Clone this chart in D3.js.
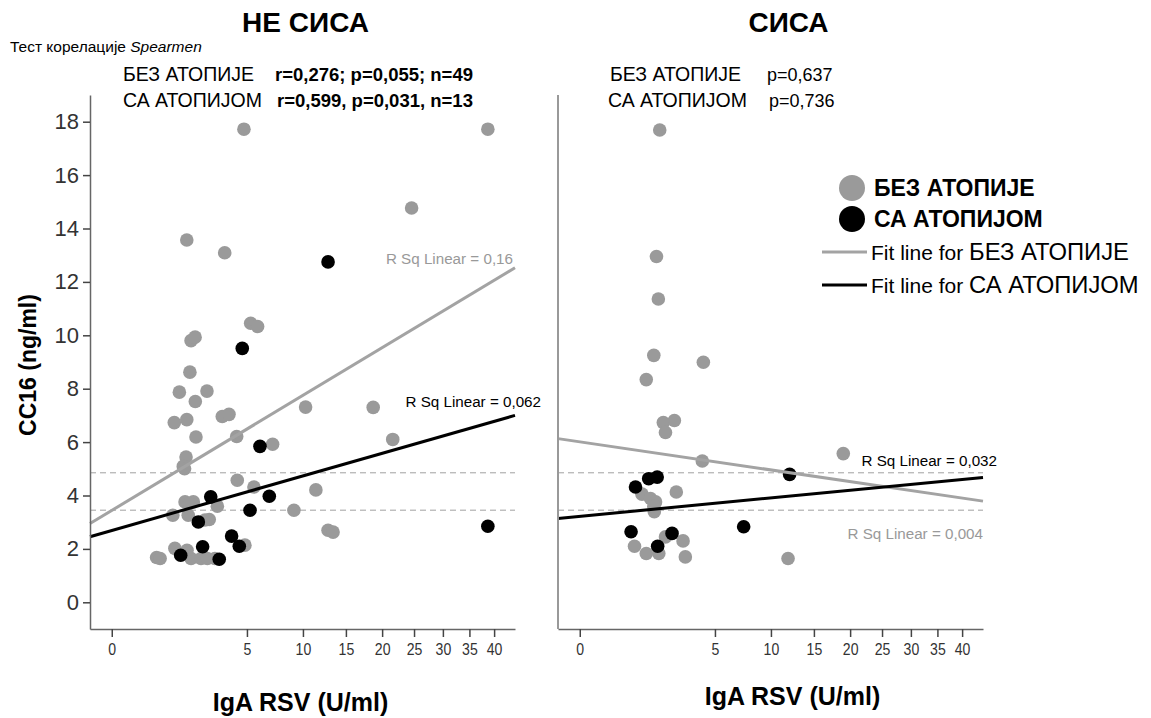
<!DOCTYPE html>
<html>
<head>
<meta charset="utf-8">
<script src="https://cdn.jsdelivr.net/npm/d3@7/dist/d3.min.js"></script>
<style>
  html, body { margin: 0; padding: 0; background: #fff; }
  svg { display: block; font-family: "Liberation Sans", Arial, sans-serif; }
</style>
</head>
<body>
<svg id="chart" width="1151" height="718"></svg>
<script>
// ---- data -------------------------------------------------------------
const panels = ["НЕ СИСА", "СИСА"];
const groups = ["БЕЗ АТОПИЈЕ", "СА АТОПИЈОМ"];

const xTicks = [0, 5, 10, 15, 20, 25, 30, 35, 40];
const yTicks = [0, 2, 4, 6, 8, 10, 12, 14, 16, 18];

// НЕ СИСА, БЕЗ АТОПИЈЕ: [IgA RSV, CC16]
const noBreastNoAtopy = [
  [4.78, 17.72], [38.7, 17.72], [24.6, 14.77], [1.54, 13.57], [3.49, 13.09],
  [5.28, 10.45], [5.82, 10.33], [1.72, 9.80], [1.90, 9.93], [1.67, 8.62],
  [1.25, 7.87], [2.48, 7.91], [1.91, 7.52], [1.07, 6.73], [1.54, 6.84],
  [3.34, 6.96], [3.76, 7.04], [1.94, 6.19], [4.27, 6.21], [10.28, 7.31],
  [18.7, 7.30], [21.6, 6.10], [7.08, 5.92], [1.51, 5.44], [1.40, 5.09],
  [4.31, 4.57], [5.53, 4.32], [11.4, 4.21], [1.47, 3.76], [1.82, 3.76],
  [3.05, 3.60], [1.02, 3.26], [1.60, 3.26], [9.08, 3.45], [2.38, 3.08],
  [4.85, 2.14], [1.09, 2.02], [0.55, 1.68], [0.64, 1.64], [1.72, 1.64],
  [2.18, 1.64], [2.91, 1.64], [12.8, 2.70], [13.4, 2.63], [1.65, 3.70],
  [1.55, 1.95], [2.60, 3.10], [1.45, 5.00], [2.50, 1.64]
];
// НЕ СИСА, СА АТОПИЈОМ
const noBreastAtopy = [
  [12.8, 12.75], [4.66, 9.51], [6.01, 5.84], [6.79, 3.97], [2.68, 3.95],
  [5.23, 3.45], [2.05, 3.01], [3.93, 2.48], [4.45, 2.10], [2.26, 2.08],
  [1.30, 1.76], [3.16, 1.61], [38.7, 2.85]
];
// СИСА, БЕЗ АТОПИЈЕ
const breastNoAtopy = [
  [1.75, 17.69], [1.61, 12.95], [1.69, 11.36], [1.50, 9.25], [4.18, 8.99],
  [1.21, 8.34], [1.91, 6.73], [2.45, 6.81], [2.01, 6.36], [4.11, 5.29],
  [19.0, 5.57], [1.06, 4.05], [1.37, 3.89], [1.57, 3.76], [2.55, 4.13],
  [1.52, 3.39], [1.50, 3.60], [0.82, 2.10], [1.21, 1.83], [1.71, 1.83],
  [2.92, 2.30], [3.05, 1.70], [11.87, 1.64], [2.01, 2.45]
];
// СИСА, СА АТОПИЈОМ
const breastAtopy = [
  [12.05, 4.79], [1.30, 4.63], [1.64, 4.69], [0.85, 4.32], [0.72, 2.64],
  [2.33, 2.58], [7.35, 2.83], [1.66, 2.10]
];

// Linear fits on the square-root axis: CC16 = a + b * sqrt(IgA)
const fitIntercept = [[3.44, 2.69], [6.01, 3.22]];
const fitSlope     = [[1.363, 0.646], [-0.333, 0.218]];
const rSquared     = [["0,16", "0,062"], ["0,004", "0,032"]];

// Horizontal reference levels (dashed)
const refLevels = [4.85, 3.45];

// Spearman summaries
const statsText = [
  ["r=0,276; p=0,055; n=49", "r=0,599, p=0,031, n=13"],
  ["p=0,637", "p=0,736"]
];

// ---- layout -----------------------------------------------------------
const svg = d3.select("#chart");
const plotW = 425, plotTop = 95, plotBottom = 629;
const panelX = [90, 558];
const grayPt = "#9a9a9a", grayLine = "#a3a3a3";

const x = d3.scalePow().exponent(0.5).domain([-0.1296, 44.49]).range([0, plotW]);
const y = d3.scaleLinear().domain([-1, 19]).range([plotBottom, plotTop]);

const pointSets = [[noBreastNoAtopy, noBreastAtopy], [breastNoAtopy, breastAtopy]];
const sq = v => v < 0 ? -Math.sqrt(-v) : Math.sqrt(v);

panels.forEach((title, p) => {
  const g = svg.append("g").attr("transform", `translate(${panelX[p]},0)`);

  // reference dashed lines
  g.selectAll("line.ref").data(refLevels).join("line")
    .attr("class", "ref")
    .attr("x1", 0).attr("x2", plotW)
    .attr("y1", d => y(d)).attr("y2", d => y(d))
    .attr("stroke", "#a0a0a0").attr("stroke-width", 1)
    .attr("stroke-dasharray", "6,4");

  // points: gray group first, black on top
  pointSets[p].forEach((pts, k) => {
    g.selectAll(`circle.g${k}`).data(pts).join("circle")
      .attr("class", `g${k}`)
      .attr("cx", d => x(d[0])).attr("cy", d => y(d[1]))
      .attr("r", 6.8)
      .attr("fill", k === 0 ? grayPt : "#000");
  });

  // fit lines across the whole x range
  const xd = x.domain();
  [0, 1].forEach(k => {
    const a = fitIntercept[p][k], b = fitSlope[p][k];
    const line = d3.line().x(d => x(d)).y(d => y(a + b * sq(d)));
    g.append("path").datum(xd)
      .attr("d", line)
      .attr("fill", "none")
      .attr("stroke", k === 0 ? grayLine : "#000")
      .attr("stroke-width", 3);
  });

  // x axis
  const xAxis = g.append("g").attr("transform", `translate(0,${plotBottom})`)
    .call(d3.axisBottom(x).tickValues(xTicks).tickSize(8).tickPadding(7).tickSizeOuter(0));
  xAxis.select(".domain").attr("stroke", "#666").attr("stroke-width", 1.5);
  xAxis.selectAll(".tick line").attr("stroke", "#444").attr("stroke-width", 1.5);
  xAxis.selectAll(".tick text")
    .attr("font-size", 16).attr("fill", "#333")
    .attr("font-family", "Liberation Sans, Arial, sans-serif")
    .attr("transform", "scale(0.88,1)");

  // y axis
  if (p === 0) {
    const yAxis = g.append("g")
      .call(d3.axisLeft(y).tickValues(yTicks).tickSize(7).tickPadding(4).tickSizeOuter(0));
    yAxis.select(".domain").attr("stroke", "#666").attr("stroke-width", 1.5);
    yAxis.selectAll(".tick line").attr("stroke", "#444").attr("stroke-width", 1.5);
    yAxis.selectAll(".tick text").attr("font-size", 22).attr("fill", "#333")
      .attr("font-family", "Liberation Sans, Arial, sans-serif");
  } else {
    g.append("line").attr("x1", 0).attr("x2", 0).attr("y1", plotTop).attr("y2", plotBottom)
      .attr("stroke", "#999").attr("stroke-width", 2);
  }

  // panel title
  g.append("text").attr("x", plotW / 2 + (p === 0 ? 3 : 18)).attr("y", 32)
    .attr("text-anchor", "middle").attr("font-weight", "bold").attr("font-size", 28)
    .text(title);

  // x axis title
  g.append("text").attr("x", plotW / 2 + (p === 0 ? -2 : 22)).attr("y", p === 0 ? 711 : 705)
    .attr("text-anchor", "middle").attr("font-weight", "bold").attr("font-size", 25)
    .text("IgA RSV (U/ml)");
});

// Spearman text block
const statG = svg.append("g");
statG.append("text").attr("x", 10).attr("y", 52).attr("font-size", 15.5)
  .call(t => {
    t.append("tspan").text("Тест корелације ");
    t.append("tspan").attr("font-style", "italic").text("Spearmen");
  });
const statX = [[123, 275], [610, 767]];
groups.forEach((grp, k) => {
  const yy = 81 + k * 26;
  [0, 1].forEach(p => {
    statG.append("text").attr("x", statX[p][0] - (p === 1 && k === 1 ? 2 : 0)).attr("y", yy)
      .attr("font-size", 19.5).text(grp);
    statG.append("text").attr("x", statX[p][1] + (k === 1 ? 2 : 0)).attr("y", yy)
      .attr("font-size", p === 0 ? 18.5 : 18).attr("font-weight", p === 0 ? "bold" : "normal")
      .text(statsText[p][k]);
  });
});

// R squared labels near line ends
const rsqPos = [
  [[513, 264], [541, 407]],
  [[983, 539], [997, 466]]
];
rsqPos.forEach((pp, p) => pp.forEach((pos, k) => {
  svg.append("text").attr("x", pos[0]).attr("y", pos[1])
    .attr("text-anchor", "end").attr("font-size", 15.2).attr("fill", k === 0 ? "#999" : "#000")
    .text(`R Sq Linear = ${rSquared[p][k]}`);
}));

// y axis title
svg.append("text").attr("transform", "translate(36,365) rotate(-90)")
  .attr("text-anchor", "middle").attr("font-weight", "bold").attr("font-size", 23)
  .text("CC16 (ng/ml)");

// legend
const lg = svg.append("g");
groups.forEach((grp, k) => {
  lg.append("circle").attr("cx", 852).attr("cy", 188 + k * 31).attr("r", 13)
    .attr("fill", k === 0 ? grayPt : "#000");
  lg.append("text").attr("x", 874).attr("y", 196 + k * 31)
    .attr("font-weight", "bold").attr("font-size", 23).text(grp);
});
groups.forEach((grp, k) => {
  const ly = 252 + k * 33;
  lg.append("line").attr("x1", 822).attr("x2", 867).attr("y1", ly).attr("y2", ly)
    .attr("stroke", k === 0 ? grayLine : "#000").attr("stroke-width", 3);
  lg.append("text").attr("x", 871).attr("y", ly + 8)
    .call(t => {
      t.append("tspan").attr("font-size", 21).text("Fit line for ");
      t.append("tspan").attr("font-size", 23.8).text(grp);
    });
});
</script>
</body>
</html>
